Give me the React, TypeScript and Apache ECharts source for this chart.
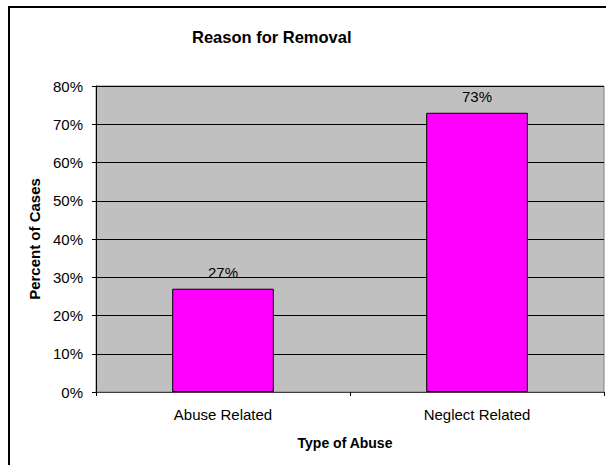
import React, { useEffect, useRef } from "react";
import * as echarts from "echarts";

const categories = ["Abuse Related", "Neglect Related"];
const percentValues = [27, 73];
const yTicks = { min: 0, max: 80, interval: 10 };
const chartTitle = "Reason for Removal";
const xAxisTitle = "Type of Abuse";
const yAxisTitle = "Percent of Cases";

const FONT = "'Liberation Sans', Arial, sans-serif";

export default function App() {
  const ref = useRef<HTMLDivElement>(null);
  useEffect(() => {
    document.body.style.margin = "0";
    const chart = echarts.init(ref.current!, null, { renderer: "svg" });
    chart.setOption({
      animation: false,
      backgroundColor: "#ffffff",
      textStyle: { fontFamily: FONT },
      title: {
        text: chartTitle,
        left: 192,
        top: 28,
        padding: 0,
        textStyle: { fontFamily: FONT, fontSize: 16.5, fontWeight: "bold", color: "#000" },
      },
      graphic: [
        {
          type: "rect",
          shape: { x: 9, y: 7, width: 700, height: 600 },
          style: { fill: "none", stroke: "#000", lineWidth: 2 },
          silent: true,
          z: 100,
        },
      ],
      grid: {
        left: 96,
        top: 86,
        right: 2,
        bottom: 73,
        show: true,
        backgroundColor: "#C0C0C0",
        borderColor: "#808080",
        borderWidth: 1,
      },
      xAxis: {
        type: "category",
        data: categories,
        name: xAxisTitle,
        nameLocation: "middle",
        nameGap: 44,
        nameTextStyle: { fontFamily: FONT, fontSize: 14, fontWeight: "bold", color: "#000", padding: [0, 10, 0, 0] },
        axisLine: { show: true, lineStyle: { color: "#404040", width: 1 } },
        axisTick: { show: true, length: 4, lineStyle: { color: "#000" } },
        axisLabel: { fontFamily: FONT, fontSize: 15, color: "#000", margin: 15 },
        splitLine: { show: false },
      },
      yAxis: {
        type: "value",
        min: yTicks.min,
        max: yTicks.max,
        interval: yTicks.interval,
        name: yAxisTitle,
        nameLocation: "middle",
        nameGap: 52,
        nameTextStyle: { fontFamily: FONT, fontSize: 15, fontWeight: "bold", color: "#000" },
        axisLine: { show: true, lineStyle: { color: "#000", width: 1 } },
        axisTick: { show: true, length: 4, lineStyle: { color: "#000" } },
        axisLabel: { fontFamily: FONT, fontSize: 15, color: "#000", margin: 13, formatter: "{value}%" },
        splitLine: { show: true, lineStyle: { color: "#000", width: 1 } },
      },
      series: [
        {
          type: "bar",
          data: percentValues,
          barWidth: "40%",
          itemStyle: { color: "#FF00FF", borderColor: "#000", borderWidth: 1 },
          label: {
            show: true,
            position: "top",
            distance: 9,
            fontFamily: FONT,
            fontSize: 15,
            color: "#000",
            formatter: "{c}%",
          },
        },
      ],
    });
    return () => chart.dispose();
  }, []);
  return (
    <div
      ref={ref}
      style={{ position: "fixed", left: 0, top: 0, width: 606, height: 465 }}
    />
  );
}
